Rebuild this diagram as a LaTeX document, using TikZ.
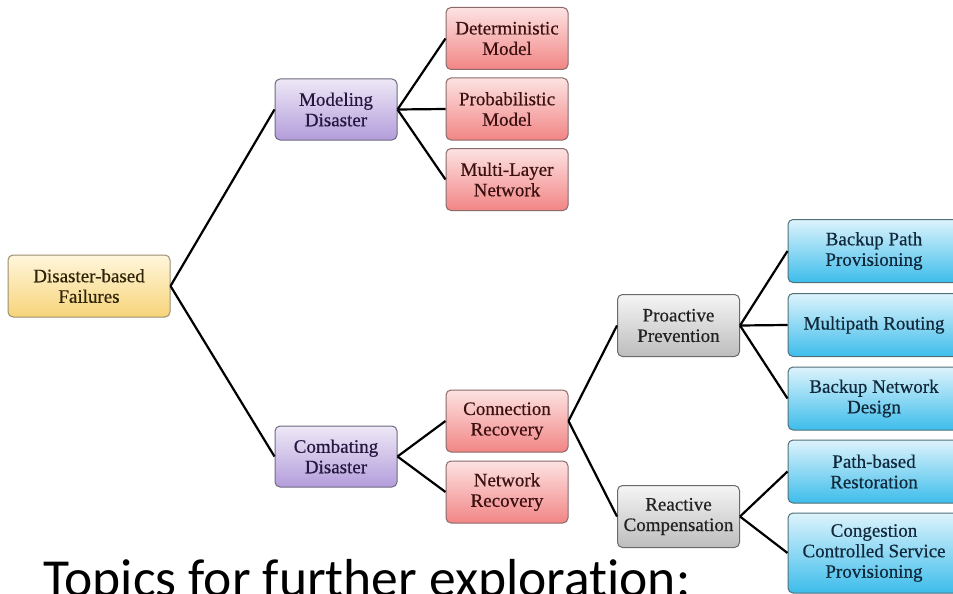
\documentclass[tikz,border=0pt]{standalone}
\usepackage{fontspec}
\setmainfont{Liberation Serif}
\newfontfamily\boxfont[FakeBold=0.5]{Liberation Serif}
\newfontfamily\capfont[Ligatures=NoCommon]{Carlito}
\definecolor{rootTop}{HTML}{FFF6DC}
\definecolor{rootBot}{HTML}{F7D47A}
\definecolor{rootLine}{HTML}{9A8F70}
\definecolor{rootText}{HTML}{2E2408}
\definecolor{purTop}{HTML}{EEE8F6}
\definecolor{purBot}{HTML}{B39DDB}
\definecolor{purLine}{HTML}{6F6A80}
\definecolor{purText}{HTML}{241840}
\definecolor{redTop}{HTML}{FDE2E2}
\definecolor{redBot}{HTML}{F28585}
\definecolor{redLine}{HTML}{8A6A6A}
\definecolor{redText}{HTML}{3A1010}
\definecolor{gryTop}{HTML}{F5F5F5}
\definecolor{gryBot}{HTML}{BDBDBD}
\definecolor{gryLine}{HTML}{6A6A6A}
\definecolor{gryText}{HTML}{222222}
\definecolor{bluTop}{HTML}{DDF3FC}
\definecolor{bluBot}{HTML}{3DBDEB}
\definecolor{bluLine}{HTML}{50707A}
\definecolor{bluText}{HTML}{10283A}
\begin{document}
\begin{tikzpicture}[x=1pt,y=-1pt,
  box/.style={draw, rounded corners=5pt, line width=1pt, align=center,
    inner sep=0pt, font=\boxfont\fontsize{19}{20.5}\selectfont},
  rootbox/.style={box, minimum width=162pt, minimum height=62pt,
    top color=rootTop, bottom color=rootBot, draw=rootLine, text=rootText},
  purbox/.style={box, minimum width=122pt, minimum height=61pt,
    top color=purTop, bottom color=purBot, draw=purLine, text=purText},
  redbox/.style={box, minimum width=122pt, minimum height=62pt,
    top color=redTop, bottom color=redBot, draw=redLine, text=redText},
  grybox/.style={box, minimum width=122pt, minimum height=62pt,
    top color=gryTop, bottom color=gryBot, draw=gryLine, text=gryText},
  blubox/.style={box, minimum width=172pt, minimum height=63pt,
    top color=bluTop, bottom color=bluBot, draw=bluLine, text=bluText},
  link/.style={line width=2.2pt, black}]
\useasboundingbox (0,0) rectangle (953,594);
\clip (0,0) rectangle (953,594);
\fill[white] (0,0) rectangle (953,594);

% root
\node[rootbox] (root) at (89,286) {Disaster-based\\Failures};

% second level
\node[purbox] (model) at (336,109.5) {Modeling\\Disaster};
\node[purbox] (combat) at (336,456.5) {Combating\\Disaster};

% disaster models
\node[redbox] (det) at (507,38.5) {Deterministic\\Model};
\node[redbox] (prob) at (507,109) {Probabilistic\\Model};
\node[redbox] (multi) at (507,179.5) {Multi-Layer\\Network};

% recovery
\node[redbox] (conn) at (507,421) {Connection\\Recovery};
\node[redbox] (net) at (507,492) {Network\\Recovery};

% prevention / compensation
\node[grybox] (pro) at (678.5,325.5) {Proactive\\Prevention};
\node[grybox] (rea) at (678.5,516.5) {Reactive\\Compensation};

% techniques
\node[blubox] (bpp) at (874,251) {Backup Path\\Provisioning};
\node[blubox] (mpr) at (874,325) {Multipath Routing};
\node[blubox] (bnd) at (874,398.5) {Backup Network\\Design};
\node[blubox] (pbr) at (874,471.5) {Path-based\\Restoration};
\node[blubox, minimum height=80pt] (ccs) at (874,553) {Congestion\\Controlled Service\\Provisioning};

% connectors
\draw[link] (root.east) -- (model.west);
\draw[link] (root.east) -- (combat.west);
\draw[link] (model.east) -- (det.west);
\draw[link] (model.east) -- (prob.west);
\draw[link] (model.east) -- (multi.west);
\draw[link] (combat.east) -- (conn.west);
\draw[link] (combat.east) -- (net.west);
\draw[link] (conn.east) -- (pro.west);
\draw[link] (conn.east) -- (rea.west);
\draw[link] (pro.east) -- (bpp.west);
\draw[link] (pro.east) -- (mpr.west);
\draw[link] (pro.east) -- (bnd.west);
\draw[link] (rea.east) -- (pbr.west);
\draw[link] (rea.east) -- (ccs.west);

% heading below
\node[anchor=base west, inner sep=0pt, font=\capfont\fontsize{53.5}{60}\selectfont] (topics) at (43,596) {Topics for further exploration:};
\end{tikzpicture}
\end{document}
